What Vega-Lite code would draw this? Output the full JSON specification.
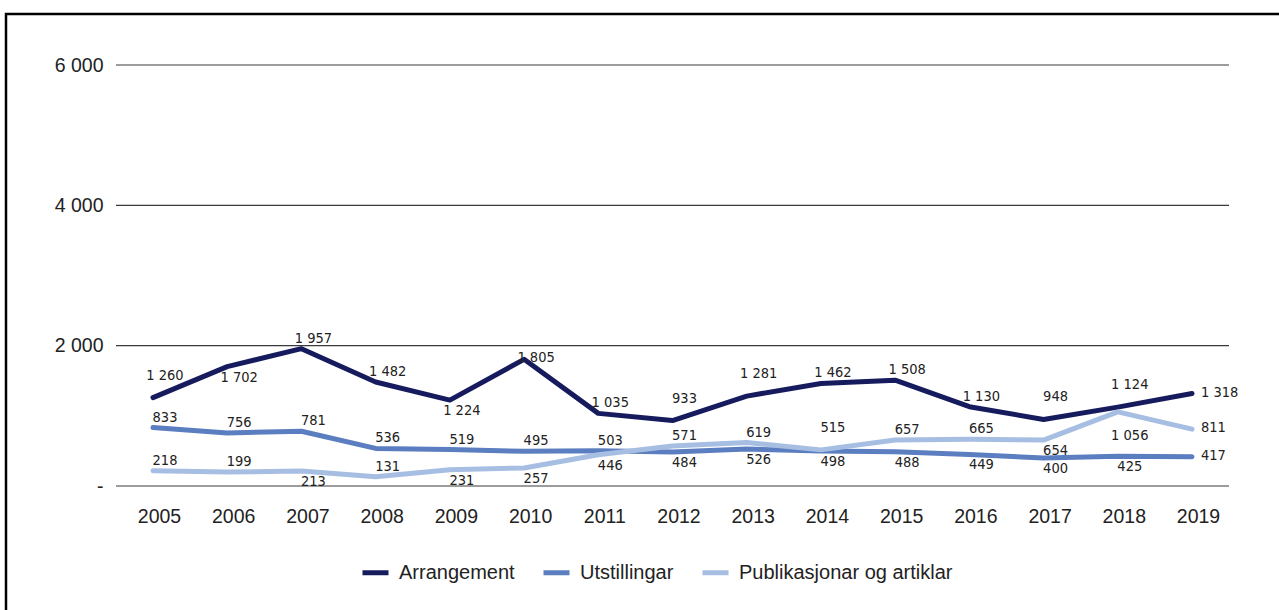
{
  "$schema": "https://vega.github.io/schema/vega-lite/v6.json",
  "width": 1285,
  "height": 610,
  "autosize": {"type": "none"},
  "padding": {"left": 6, "top": 14, "right": -12, "bottom": -14},
  "background": "white",
  "config": {
    "view": {"stroke": "#000", "strokeWidth": 2.5},
    "font": "Liberation Sans",
    "legend": {
      "orient": "none", "legendX": 354, "legendY": 543, "direction": "horizontal",
      "symbolType": "stroke", "symbolStrokeWidth": 5, "symbolSize": 676,
      "labelFont": "Liberation Sans", "labelFontSize": 20, "labelColor": "#222", "labelLimit": 0,
      "labelOffset": 8, "columnPadding": 18
    }
  },
  "data": {"values": [
    {"year": 2005, "series": "Arrangement", "value": 1260},
    {"year": 2006, "series": "Arrangement", "value": 1702},
    {"year": 2007, "series": "Arrangement", "value": 1957},
    {"year": 2008, "series": "Arrangement", "value": 1482},
    {"year": 2009, "series": "Arrangement", "value": 1224},
    {"year": 2010, "series": "Arrangement", "value": 1805},
    {"year": 2011, "series": "Arrangement", "value": 1035},
    {"year": 2012, "series": "Arrangement", "value": 933},
    {"year": 2013, "series": "Arrangement", "value": 1281},
    {"year": 2014, "series": "Arrangement", "value": 1462},
    {"year": 2015, "series": "Arrangement", "value": 1508},
    {"year": 2016, "series": "Arrangement", "value": 1130},
    {"year": 2017, "series": "Arrangement", "value": 948},
    {"year": 2018, "series": "Arrangement", "value": 1124},
    {"year": 2019, "series": "Arrangement", "value": 1318},
    {"year": 2005, "series": "Utstillingar", "value": 833},
    {"year": 2006, "series": "Utstillingar", "value": 756},
    {"year": 2007, "series": "Utstillingar", "value": 781},
    {"year": 2008, "series": "Utstillingar", "value": 536},
    {"year": 2009, "series": "Utstillingar", "value": 519},
    {"year": 2010, "series": "Utstillingar", "value": 495},
    {"year": 2011, "series": "Utstillingar", "value": 503},
    {"year": 2012, "series": "Utstillingar", "value": 484},
    {"year": 2013, "series": "Utstillingar", "value": 526},
    {"year": 2014, "series": "Utstillingar", "value": 498},
    {"year": 2015, "series": "Utstillingar", "value": 488},
    {"year": 2016, "series": "Utstillingar", "value": 449},
    {"year": 2017, "series": "Utstillingar", "value": 400},
    {"year": 2018, "series": "Utstillingar", "value": 425},
    {"year": 2019, "series": "Utstillingar", "value": 417},
    {"year": 2005, "series": "Publikasjonar og artiklar", "value": 218},
    {"year": 2006, "series": "Publikasjonar og artiklar", "value": 199},
    {"year": 2007, "series": "Publikasjonar og artiklar", "value": 213},
    {"year": 2008, "series": "Publikasjonar og artiklar", "value": 131},
    {"year": 2009, "series": "Publikasjonar og artiklar", "value": 231},
    {"year": 2010, "series": "Publikasjonar og artiklar", "value": 257},
    {"year": 2011, "series": "Publikasjonar og artiklar", "value": 446},
    {"year": 2012, "series": "Publikasjonar og artiklar", "value": 571},
    {"year": 2013, "series": "Publikasjonar og artiklar", "value": 619},
    {"year": 2014, "series": "Publikasjonar og artiklar", "value": 515},
    {"year": 2015, "series": "Publikasjonar og artiklar", "value": 657},
    {"year": 2016, "series": "Publikasjonar og artiklar", "value": 665},
    {"year": 2017, "series": "Publikasjonar og artiklar", "value": 654},
    {"year": 2018, "series": "Publikasjonar og artiklar", "value": 1056},
    {"year": 2019, "series": "Publikasjonar og artiklar", "value": 811}
  ]},
  "encoding": {
    "x": {
      "field": "year", "type": "ordinal",
      "scale": {"type": "point", "range": [147, 1186], "padding": 0},
      "axis": {
        "orient": "bottom", "offset": -138, "title": null, "domain": false, "ticks": false, "tickSize": 0,
        "grid": false, "labelAngle": 0, "labelPadding": 30, "labelBaseline": "middle", "labelOffset": 6,
        "labelFont": "Liberation Sans", "labelFontSize": 19.5, "labelColor": "#222"
      }
    },
    "y": {
      "field": "value", "type": "quantitative",
      "scale": {"domain": [0, 6000], "range": [472, 51], "nice": false},
      "axis": {
        "orient": "left", "offset": -110, "title": null, "domain": false, "ticks": false, "tickSize": 0,
        "grid": false, "values": [0, 2000, 4000, 6000], "labelPadding": 13,
        "labelExpr": "datum.value == 0 ? '-' : replace(format(datum.value, ','), ',', ' ')",
        "labelFont": "Liberation Sans", "labelFontSize": 19.5, "labelColor": "#222"
      }
    }
  },
  "layer": [
    {
      "data": {"values": [{"value": 0}, {"value": 2000}, {"value": 4000}, {"value": 6000}]},
      "mark": {"type": "rule", "xOffset": -37, "x2Offset": 37, "strokeWidth": 1.2, "color": "#3a3a3a"},
      "encoding": {
        "x": {"datum": 2005, "type": "ordinal"},
        "x2": {"datum": 2019}
      }
    },
    {
      "mark": {"type": "line", "strokeWidth": 5, "strokeCap": "round", "strokeJoin": "round"},
      "encoding": {
        "color": {
          "field": "series", "type": "nominal",
          "scale": {"domain": ["Arrangement", "Utstillingar", "Publikasjonar og artiklar"], "range": ["#161b5e", "#5b7ec0", "#a7bee3"]},
          "legend": {"title": null}
        }
      }
    },
    {
      "transform": [
        {"filter": "datum.year != 2019 && !((datum.series == 'Arrangement' && indexof([2005, 2012, 2013, 2017, 2018, 2006, 2009, 2010], datum.year) >= 0) || (datum.series == 'Utstillingar' && datum.year >= 2012) || (datum.series == 'Publikasjonar og artiklar' && indexof([2014, 2007, 2009, 2010, 2011, 2017, 2018], datum.year) >= 0))"},
        {"calculate": "replace(format(datum.value, ','), ',', ' ')", "as": "lbl"}
      ],
      "mark": {"type": "text", "dx": 12, "dy": -10, "font": "DejaVu Sans Condensed, Liberation Sans", "fontSize": 14.5, "color": "#222"},
      "encoding": {"text": {"field": "lbl"}}
    },
    {
      "transform": [
        {"filter": "(datum.series == 'Arrangement' && indexof([2005, 2012, 2013, 2017, 2018], datum.year) >= 0) || (datum.series == 'Publikasjonar og artiklar' && datum.year == 2014)"},
        {"calculate": "replace(format(datum.value, ','), ',', ' ')", "as": "lbl"}
      ],
      "mark": {"type": "text", "dx": 12, "dy": -22, "font": "DejaVu Sans Condensed, Liberation Sans", "fontSize": 14.5, "color": "#222"},
      "encoding": {"text": {"field": "lbl"}}
    },
    {
      "transform": [
        {"filter": "datum.year != 2019 && ((datum.series == 'Arrangement' && indexof([2006, 2009], datum.year) >= 0) || (datum.series == 'Utstillingar' && datum.year >= 2012) || (datum.series == 'Publikasjonar og artiklar' && indexof([2007, 2009, 2010, 2011, 2017], datum.year) >= 0))"},
        {"calculate": "replace(format(datum.value, ','), ',', ' ')", "as": "lbl"}
      ],
      "mark": {"type": "text", "dx": 12, "dy": 11, "font": "DejaVu Sans Condensed, Liberation Sans", "fontSize": 14.5, "color": "#222"},
      "encoding": {"text": {"field": "lbl"}}
    },
    {
      "transform": [
        {"filter": "datum.series == 'Publikasjonar og artiklar' && datum.year == 2018"},
        {"calculate": "replace(format(datum.value, ','), ',', ' ')", "as": "lbl"}
      ],
      "mark": {"type": "text", "dx": 12, "dy": 24, "font": "DejaVu Sans Condensed, Liberation Sans", "fontSize": 14.5, "color": "#222"},
      "encoding": {"text": {"field": "lbl"}}
    },
    {
      "transform": [
        {"filter": "datum.series == 'Arrangement' && datum.year == 2010"},
        {"calculate": "replace(format(datum.value, ','), ',', ' ')", "as": "lbl"}
      ],
      "mark": {"type": "text", "dx": 12, "dy": -1, "font": "DejaVu Sans Condensed, Liberation Sans", "fontSize": 14.5, "color": "#222"},
      "encoding": {"text": {"field": "lbl"}}
    },
    {
      "transform": [
        {"filter": "datum.year == 2019"},
        {"calculate": "replace(format(datum.value, ','), ',', ' ')", "as": "lbl"}
      ],
      "mark": {"type": "text", "align": "left", "dx": 9, "dy": -1, "font": "DejaVu Sans Condensed, Liberation Sans", "fontSize": 14.5, "color": "#222"},
      "encoding": {"text": {"field": "lbl"}}
    }
  ]
}
